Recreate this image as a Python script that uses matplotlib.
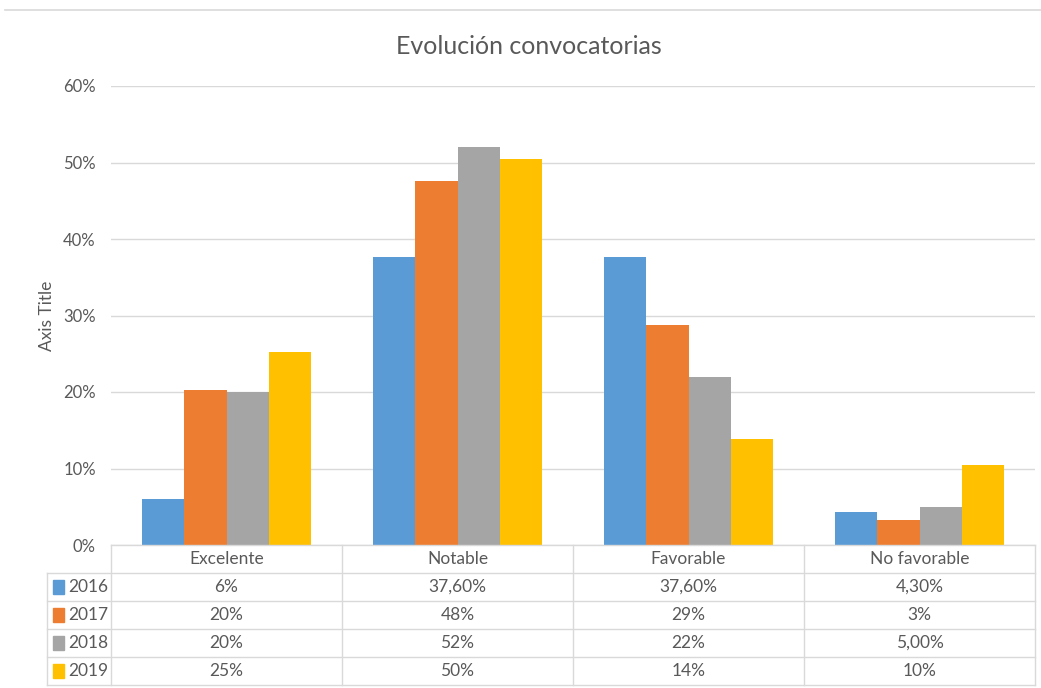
import matplotlib
matplotlib.use("Agg")
from matplotlib import pyplot as plt
from matplotlib.lines import Line2D
import numpy as np

plt.rcParams['font.family'] = ['Lato', 'DejaVu Sans']

categories = ["Excelente", "Notable", "Favorable", "No favorable"]
years = ["2016", "2017", "2018", "2019"]
v2016 = [0.06, 0.376, 0.376, 0.043]
v2017 = [0.202, 0.476, 0.288, 0.033]
v2018 = [0.20, 0.52, 0.22, 0.05]
v2019 = [0.252, 0.505, 0.139, 0.104]
lab2016 = ["6%", "37,60%", "37,60%", "4,30%"]
lab2017 = ["20%", "48%", "29%", "3%"]
lab2018 = ["20%", "52%", "22%", "5,00%"]
lab2019 = ["25%", "50%", "14%", "10%"]
colors = ["#5b9bd5", "#ed7d31", "#a5a5a5", "#ffc000"]

series = [v2016, v2017, v2018, v2019]
labels = [lab2016, lab2017, lab2018, lab2019]

W, H = 1041, 688
fig = plt.figure(figsize=(W / 100, H / 100), dpi=100)
txt = "#595959"
grid = "#d9d9d9"
fs = 12.5

# thin line at the very top
fig.add_artist(Line2D([5 / W, 1.0], [1 - 10 / H, 1 - 10 / H], color=grid, lw=1.2))

x0, x1 = 111, 1035
y0, y1 = 545, 86
ax = fig.add_axes([x0 / W, 1 - y0 / H, (x1 - x0) / W, (y0 - y1) / H])
x = np.arange(len(categories))
bw = 0.183
for i, vals in enumerate(series):
    ax.bar(x + (i - 1.5) * bw, vals, bw, color=colors[i], zorder=3)
ax.set_xlim(-0.5, 3.5)
ax.set_ylim(0, 0.6)
ax.set_yticks(np.arange(0, 0.61, 0.1))
ax.set_yticklabels([f"{int(round(t * 100))}%" for t in np.arange(0, 0.61, 0.1)])
ax.yaxis.grid(True, color=grid, lw=1, zorder=0)
ax.set_xticks([])
for s in ax.spines.values():
    s.set_visible(False)
ax.tick_params(axis="y", length=0, pad=11, labelsize=12, labelcolor=txt)
ax.set_ylabel("Axis Title", color=txt, fontsize=fs, labelpad=6)
fig.text(529 / W, 1 - 46 / H, "Evolución convocatorias", ha="center",
         va="center", fontsize=18, color=txt)

# data table
tl, tt, tb = 47, 545, 685
cw = (x1 - x0) / 4
tax = fig.add_axes([tl / W, 1 - tb / H, (x1 - tl) / W, (tb - tt) / H])
left = -0.5 - (x0 - tl) / cw
tax.set_xlim(left, 3.5)
tax.set_ylim(5, 0)
tax.axis("off")
lk = dict(color=grid, lw=1, clip_on=False)
# horizontal lines
tax.plot([-0.5, 3.5], [0, 0], **lk)
for r in range(1, 6):
    tax.plot([left, 3.5], [r, r], **lk)
# vertical lines
tax.plot([left, left], [1, 5], **lk)
for c in range(5):
    tax.plot([c - 0.5, c - 0.5], [0, 5], **lk)
for j, cat in enumerate(categories):
    tax.text(j, 0.5, cat, ha="center", va="center", fontsize=fs, color=txt)
for i, yr in enumerate(years):
    tax.add_patch(plt.Rectangle((left + 0.027, i + 1.5 - 0.24), 0.045, 0.48,
                                color=colors[i], clip_on=False))
    tax.text(left + 0.092, i + 1.5, yr, ha="left", va="center", fontsize=fs, color=txt)
    for j in range(len(categories)):
        tax.text(j, i + 1.5, labels[i][j], ha="center", va="center", fontsize=fs, color=txt)

fig.savefig("out.png", dpi=100)
